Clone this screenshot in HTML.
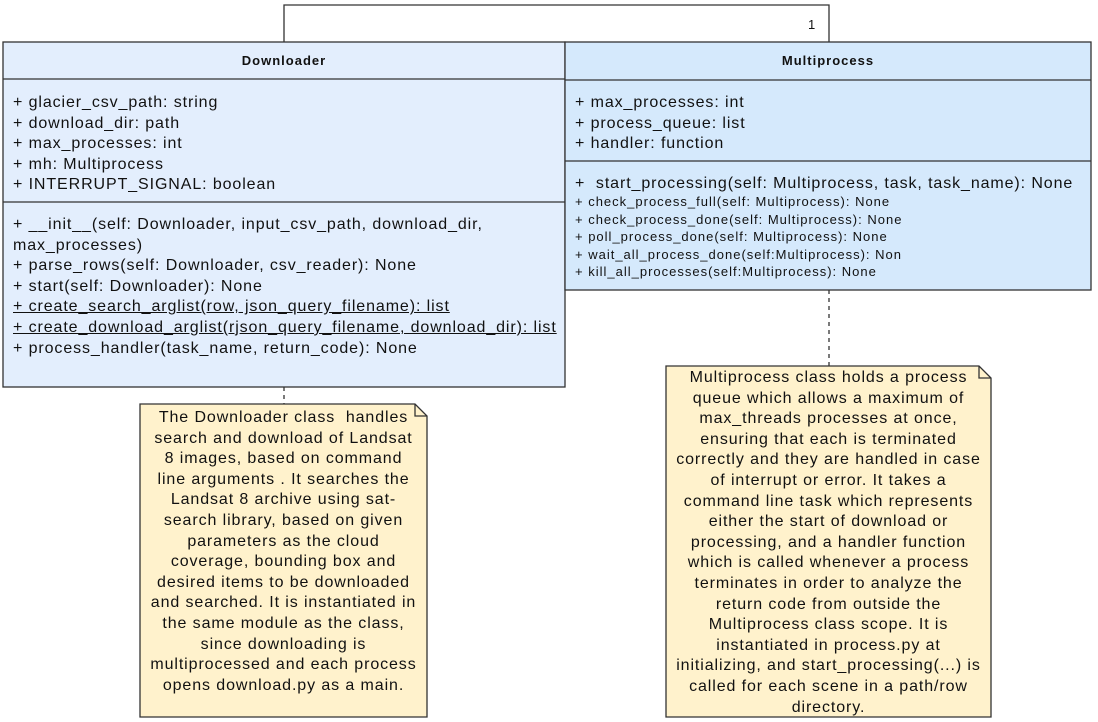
<!DOCTYPE html>
<html><head><meta charset="utf-8"><style>
body{margin:0;width:1098px;height:722px;background:#fff;position:relative;overflow:hidden;font-family:"Liberation Sans",sans-serif;color:#111}
.a{position:absolute;white-space:nowrap}
.t{font-size:16px;line-height:20.6px;letter-spacing:0.9px}
.s{font-size:13px;line-height:17.5px;letter-spacing:1px}
.h{font-weight:bold;font-size:13px;text-align:center;letter-spacing:1px}
.n{position:absolute;font-size:16px;line-height:20.6px;text-align:center;white-space:nowrap;letter-spacing:0.9px}
</style></head><body>
<svg class="a" style="left:0;top:0" width="1098" height="722">
<polyline points="284,42 284,5 829,5 829,42" fill="none" stroke="#333" stroke-width="1.3"/>
<rect x="3" y="42" width="562" height="345" fill="#e3eefd" stroke="#333" stroke-width="1.3"/>
<line x1="3" y1="79" x2="565" y2="79" stroke="#333" stroke-width="1.3"/>
<line x1="3" y1="202" x2="565" y2="202" stroke="#333" stroke-width="1.3"/>
<rect x="565" y="42" width="526" height="248" fill="#d5e9fc" stroke="#333" stroke-width="1.3"/>
<line x1="565" y1="80" x2="1091" y2="80" stroke="#333" stroke-width="1.3"/>
<line x1="565" y1="161" x2="1091" y2="161" stroke="#333" stroke-width="1.3"/>
<line x1="284" y1="387" x2="284" y2="404" stroke="#333" stroke-width="1.3" stroke-dasharray="4,4"/>
<line x1="829" y1="290" x2="829" y2="366" stroke="#333" stroke-width="1.3" stroke-dasharray="4,4"/>
<path d="M140,404 H415 L427,416 V717 H140 Z" fill="#fff2cc" stroke="#333" stroke-width="1.3"/>
<path d="M415,404 V416 H427" fill="none" stroke="#333" stroke-width="1.3"/>
<path d="M666,366 H979 L991,378 V717 H666 Z" fill="#fff2cc" stroke="#333" stroke-width="1.3"/>
<path d="M979,366 V378 H991" fill="none" stroke="#333" stroke-width="1.3"/>
<text x="808" y="29" font-family="Liberation Sans" font-size="13" fill="#111">1</text>
</svg>
<div class="a h" style="left:3px;top:53px;width:562px">Downloader</div>
<div class="a h" style="left:565px;top:53px;width:526px">Multiprocess</div>
<div class="a t" style="left:13px;top:93px">+ glacier_csv_path: string<br>+ download_dir: path<br>+ max_processes: int<br>+ mh: Multiprocess<br>+ INTERRUPT_SIGNAL: boolean</div>
<div class="a t" style="left:13px;top:215px">+ __init__(self: Downloader, input_csv_path, download_dir,<br>max_processes)<br>+ parse_rows(self: Downloader, csv_reader): None<br>+ start(self: Downloader): None<br><u>+ create_search_arglist(row, json_query_filename): list</u><br><u>+ create_download_arglist(rjson_query_filename, download_dir): list</u><br>+ process_handler(task_name, return_code): None</div>
<div class="a t" style="left:575px;top:93px">+ max_processes: int<br>+ process_queue: list<br>+ handler: function</div>
<div class="a t" style="left:575px;top:174px">+ &nbsp;start_processing(self: Multiprocess, task, task_name): None</div>
<div class="a s" style="left:575px;top:193px">+ check_process_full(self: Multiprocess): None<br>+ check_process_done(self: Multiprocess): None<br>+ poll_process_done(self: Multiprocess): None<br>+ wait_all_process_done(self:Multiprocess): Non<br>+ kill_all_processes(self:Multiprocess): None</div>
<div class="n" style="left:140px;top:408px;width:287px">The Downloader class&nbsp; handles<br>search and download of Landsat<br>8 images, based on command<br>line arguments . It searches the<br>Landsat 8 archive using sat-<br>search library, based on given<br>parameters as the cloud<br>coverage, bounding box and<br>desired items to be downloaded<br>and searched. It is instantiated in<br>the same module as the class,<br>since downloading is<br>multiprocessed and each process<br>opens download.py as a main.</div>
<div class="n" style="left:666px;top:368px;width:325px">Multiprocess class holds a process<br>queue which allows a maximum of<br>max_threads processes at once,<br>ensuring that each is terminated<br>correctly and they are handled in case<br>of interrupt or error. It takes a<br>command line task which represents<br>either the start of download or<br>processing, and a handler function<br>which is called whenever a process<br>terminates in order to analyze the<br>return code from outside the<br>Multiprocess class scope. It is<br>instantiated in process.py at<br>initializing, and start_processing(...) is<br>called for each scene in a path/row<br>directory.</div>
</body></html>
